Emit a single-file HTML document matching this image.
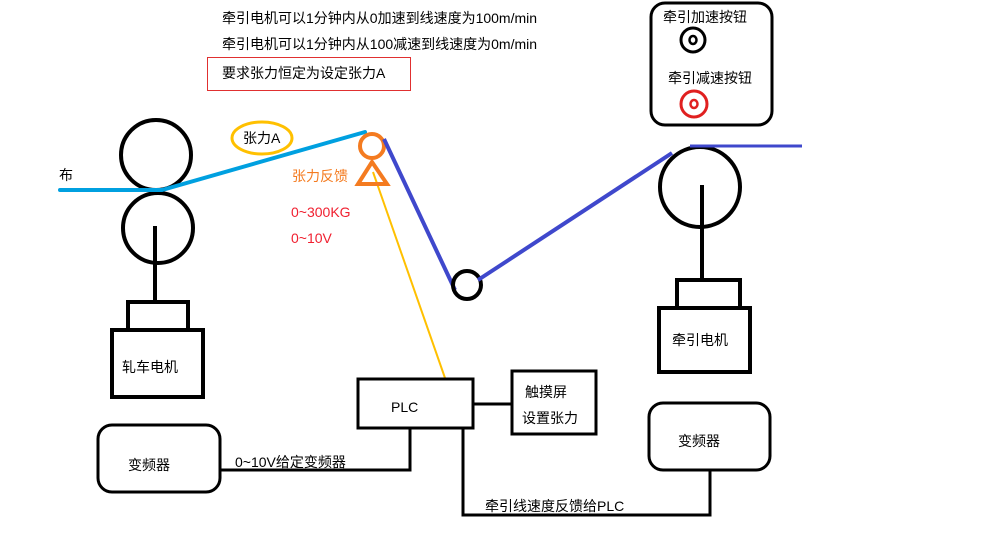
<!DOCTYPE html>
<html><head><meta charset="utf-8"><style>
body{margin:0;background:#fff}
svg text{font-family:"Liberation Sans","Noto Sans CJK SC",sans-serif;font-size:14px}
</style></head><body>
<svg width="997" height="528" xmlns="http://www.w3.org/2000/svg">
<rect width="997" height="528" fill="#fff"/>
<text x="222" y="23">牵引电机可以1分钟内从0加速到线速度为100m/min</text>
<text x="222" y="49">牵引电机可以1分钟内从100减速到线速度为0m/min</text>
<rect x="207.5" y="57.5" width="203" height="33" fill="none" stroke="#e03030" stroke-width="1"/>
<text x="222" y="78">要求张力恒定为设定张力A</text>

<rect x="651" y="3" width="121" height="122" rx="14" fill="none" stroke="#000" stroke-width="3"/>
<text x="663" y="22">牵引加速按钮</text>
<circle cx="693" cy="40" r="12" fill="none" stroke="#000" stroke-width="3"/>
<ellipse cx="693" cy="40" rx="3.5" ry="4" fill="none" stroke="#000" stroke-width="2.5"/>
<text x="668" y="83">牵引减速按钮</text>
<circle cx="694" cy="104" r="13" fill="none" stroke="#e02020" stroke-width="3"/>
<ellipse cx="694" cy="104" rx="3.5" ry="4" fill="none" stroke="#e02020" stroke-width="2.5"/>

<circle cx="156" cy="155" r="35" fill="none" stroke="#000" stroke-width="4"/>
<circle cx="158" cy="228" r="35" fill="none" stroke="#000" stroke-width="4"/>
<line x1="155" y1="226" x2="155" y2="302" stroke="#000" stroke-width="4"/>
<rect x="128" y="302" width="60" height="28" fill="none" stroke="#000" stroke-width="4"/>
<rect x="112" y="330" width="91" height="67" fill="none" stroke="#000" stroke-width="4"/>
<text x="122" y="372" font-size="15">轧车电机</text>
<text x="59" y="180">布</text>
<polyline points="60,190 162,190 365,132" fill="none" stroke="#00a0e0" stroke-width="4" stroke-linecap="round"/>
<ellipse cx="262" cy="138" rx="30" ry="16" fill="none" stroke="#ffc000" stroke-width="3"/>
<text x="243" y="143">张力A</text>
<line x1="373" y1="172" x2="445" y2="378" stroke="#ffc000" stroke-width="2"/>
<circle cx="372" cy="146" r="12" fill="none" stroke="#f47b20" stroke-width="4"/>
<polygon points="372,162 358,184 387,184" fill="none" stroke="#f47b20" stroke-width="4"/>
<text x="292" y="181" fill="#f47b20">张力反馈</text>
<text x="291" y="217" fill="#f02030">0~300KG</text>
<text x="291" y="243" fill="#f02030">0~10V</text>

<polyline points="384,139 455,290" fill="none" stroke="#3f48cc" stroke-width="4"/>
<circle cx="467" cy="285" r="14" fill="none" stroke="#000" stroke-width="4"/>
<line x1="478" y1="280" x2="672" y2="153" stroke="#3f48cc" stroke-width="4"/>
<circle cx="700" cy="187" r="40" fill="none" stroke="#000" stroke-width="4"/>
<line x1="690" y1="146" x2="802" y2="146" stroke="#3f48cc" stroke-width="3"/>
<line x1="702" y1="185" x2="702" y2="280" stroke="#000" stroke-width="4"/>
<rect x="677" y="280" width="63" height="28" fill="none" stroke="#000" stroke-width="4"/>
<rect x="659" y="308" width="91" height="64" fill="none" stroke="#000" stroke-width="4"/>
<text x="672" y="345" font-size="15">牵引电机</text>

<rect x="358" y="379" width="115" height="49" fill="none" stroke="#000" stroke-width="3"/>
<text x="391" y="412">PLC</text>
<line x1="473" y1="404" x2="512" y2="404" stroke="#000" stroke-width="3"/>
<rect x="512" y="371" width="84" height="63" fill="none" stroke="#000" stroke-width="3"/>
<text x="525" y="397">触摸屏</text>
<text x="522" y="423">设置张力</text>

<rect x="98" y="425" width="122" height="67" rx="14" fill="none" stroke="#000" stroke-width="3"/>
<text x="128" y="470">变频器</text>
<polyline points="220,470 410,470 410,428" fill="none" stroke="#000" stroke-width="3"/>
<text x="235" y="467">0~10V给定变频器</text>

<rect x="649" y="403" width="121" height="67" rx="14" fill="none" stroke="#000" stroke-width="3"/>
<text x="678" y="446">变频器</text>
<polyline points="710,470 710,515 463,515 463,428" fill="none" stroke="#000" stroke-width="3"/>
<text x="485" y="511">牵引线速度反馈给PLC</text>
</svg>
</body></html>
